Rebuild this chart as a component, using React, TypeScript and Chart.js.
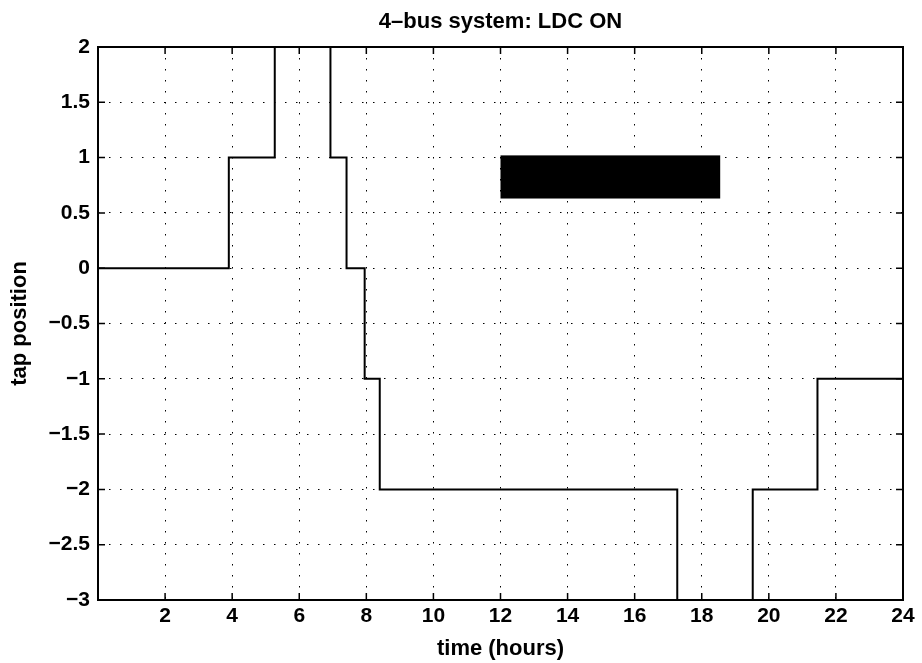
import React, { useEffect, useRef } from "react";
import { Chart, registerables } from "chart.js";

Chart.register(...registerables);

const TITLE = "4\u2013bus system: LDC ON";
const X_LABEL = "time (hours)";
const Y_LABEL = "tap position";

// switching times (hours) and the tap position held from each time onward
const switchTimes = [0, 3.9, 5.27, 6.93, 7.41, 7.95, 8.4, 17.27, 19.52, 21.45, 24];
const tapPositions = [0, 1, 2, 1, 0, -1, -2, -3, -2, -1, -1];

// redacted legend box (data coordinates)
const legendBoxX = [12.0, 18.55];
const legendBoxY = [0.63, 1.02];

const X_MIN = 0, X_MAX = 24, X_STEP = 2;
const Y_MIN = -3, Y_MAX = 2, Y_STEP = 0.5;

const FONT = "'Liberation Sans', Arial, Helvetica, sans-serif";

const fmt = (v: number) => {
  const s = String(Math.abs(Math.round(v * 10) / 10));
  return v < 0 ? "\u2212" + s : s;
};

const framePlugin = {
  id: "matlabFrame",
  afterDatasetsDraw(chart: any) {
    const { ctx, chartArea: a, scales } = chart;
    const xs = scales.x, ys = scales.y;
    ctx.save();
    // redacted legend box
    const bx0 = xs.getPixelForValue(legendBoxX[0]);
    const bx1 = xs.getPixelForValue(legendBoxX[1]);
    const by0 = ys.getPixelForValue(legendBoxY[1]);
    const by1 = ys.getPixelForValue(legendBoxY[0]);
    ctx.fillStyle = "#000";
    ctx.fillRect(bx0, by0, bx1 - bx0, by1 - by0);
    // frame
    ctx.strokeStyle = "#000";
    ctx.lineWidth = 2;
    ctx.setLineDash([]);
    ctx.strokeRect(a.left, a.top, a.right - a.left, a.bottom - a.top);
    // inward ticks on all four sides
    const tl = 7;
    ctx.lineWidth = 1.5;
    ctx.beginPath();
    xs.ticks.forEach((t: any) => {
      const px = xs.getPixelForValue(t.value);
      ctx.moveTo(px, a.bottom);
      ctx.lineTo(px, a.bottom - tl);
      ctx.moveTo(px, a.top);
      ctx.lineTo(px, a.top + tl);
    });
    ys.ticks.forEach((t: any) => {
      const py = ys.getPixelForValue(t.value);
      ctx.moveTo(a.left, py);
      ctx.lineTo(a.left + tl, py);
      ctx.moveTo(a.right, py);
      ctx.lineTo(a.right - tl, py);
    });
    ctx.stroke();
    // title centred over the plot area
    ctx.fillStyle = "#000";
    ctx.font = "bold 22px " + FONT;
    ctx.textAlign = "center";
    ctx.textBaseline = "middle";
    ctx.fillText(TITLE, (a.left + a.right) / 2, a.top - 25);
    ctx.restore();
  },
};

export default function App() {
  const ref = useRef<HTMLCanvasElement | null>(null);

  useEffect(() => {
    if (!ref.current) return;
    const points = switchTimes.map((t, i) => ({ x: t, y: tapPositions[i] }));
    const chart = new Chart(ref.current, {
      type: "line",
      data: {
        datasets: [
          {
            data: points,
            borderColor: "#000",
            borderWidth: 2,
            pointRadius: 0,
            stepped: "before",
            fill: false,
          },
        ],
      },
      options: {
        animation: false,
        responsive: false,
        maintainAspectRatio: false,
        layout: { padding: { left: 0, right: 19, top: 47, bottom: 0 } },
        plugins: {
          legend: { display: false },
          tooltip: { enabled: false },
          title: { display: false },
        },
        scales: {
          x: {
            type: "linear",
            min: X_MIN,
            max: X_MAX,
            afterFit: (s: any) => { s.height = 63; },
            ticks: {
              stepSize: X_STEP,
              color: "#000",
              padding: 4,
              maxRotation: 0,
              autoSkip: false,
              font: { family: FONT, size: 21, weight: "bold" },
              callback: (v: any) => (Number(v) === 0 ? "" : String(v)),
            },
            grid: { color: "#000", lineWidth: 1, drawTicks: false },
            border: { display: false, dash: [1.5, 9.5] },
            title: {
              display: true,
              text: X_LABEL,
              color: "#000",
              font: { family: FONT, size: 22, weight: "bold", lineHeight: 1.2 },
              padding: { top: 0, bottom: 1 },
            },
          },
          y: {
            type: "linear",
            min: Y_MIN,
            max: Y_MAX,
            afterFit: (s: any) => { s.width = 98; },
            ticks: {
              stepSize: Y_STEP,
              color: "#000",
              padding: 8,
              autoSkip: false,
              font: { family: FONT, size: 21, weight: "bold" },
              callback: (v: any) => fmt(Number(v)),
            },
            grid: { color: "#000", lineWidth: 1, drawTicks: false },
            border: { display: false, dash: [1.5, 9.5] },
            title: {
              display: true,
              text: Y_LABEL,
              color: "#000",
              font: { family: FONT, size: 22, weight: "bold", lineHeight: 1.2 },
              padding: { top: 7, bottom: 0 },
            },
          },
        },
      },
      plugins: [framePlugin],
    } as any);
    return () => chart.destroy();
  }, []);

  return (
    <div style={{ position: "absolute", left: 0, top: 0, width: 922, height: 663, background: "#fff" }}>
      <canvas ref={ref} width={922} height={663} style={{ display: "block" }} />
    </div>
  );
}
